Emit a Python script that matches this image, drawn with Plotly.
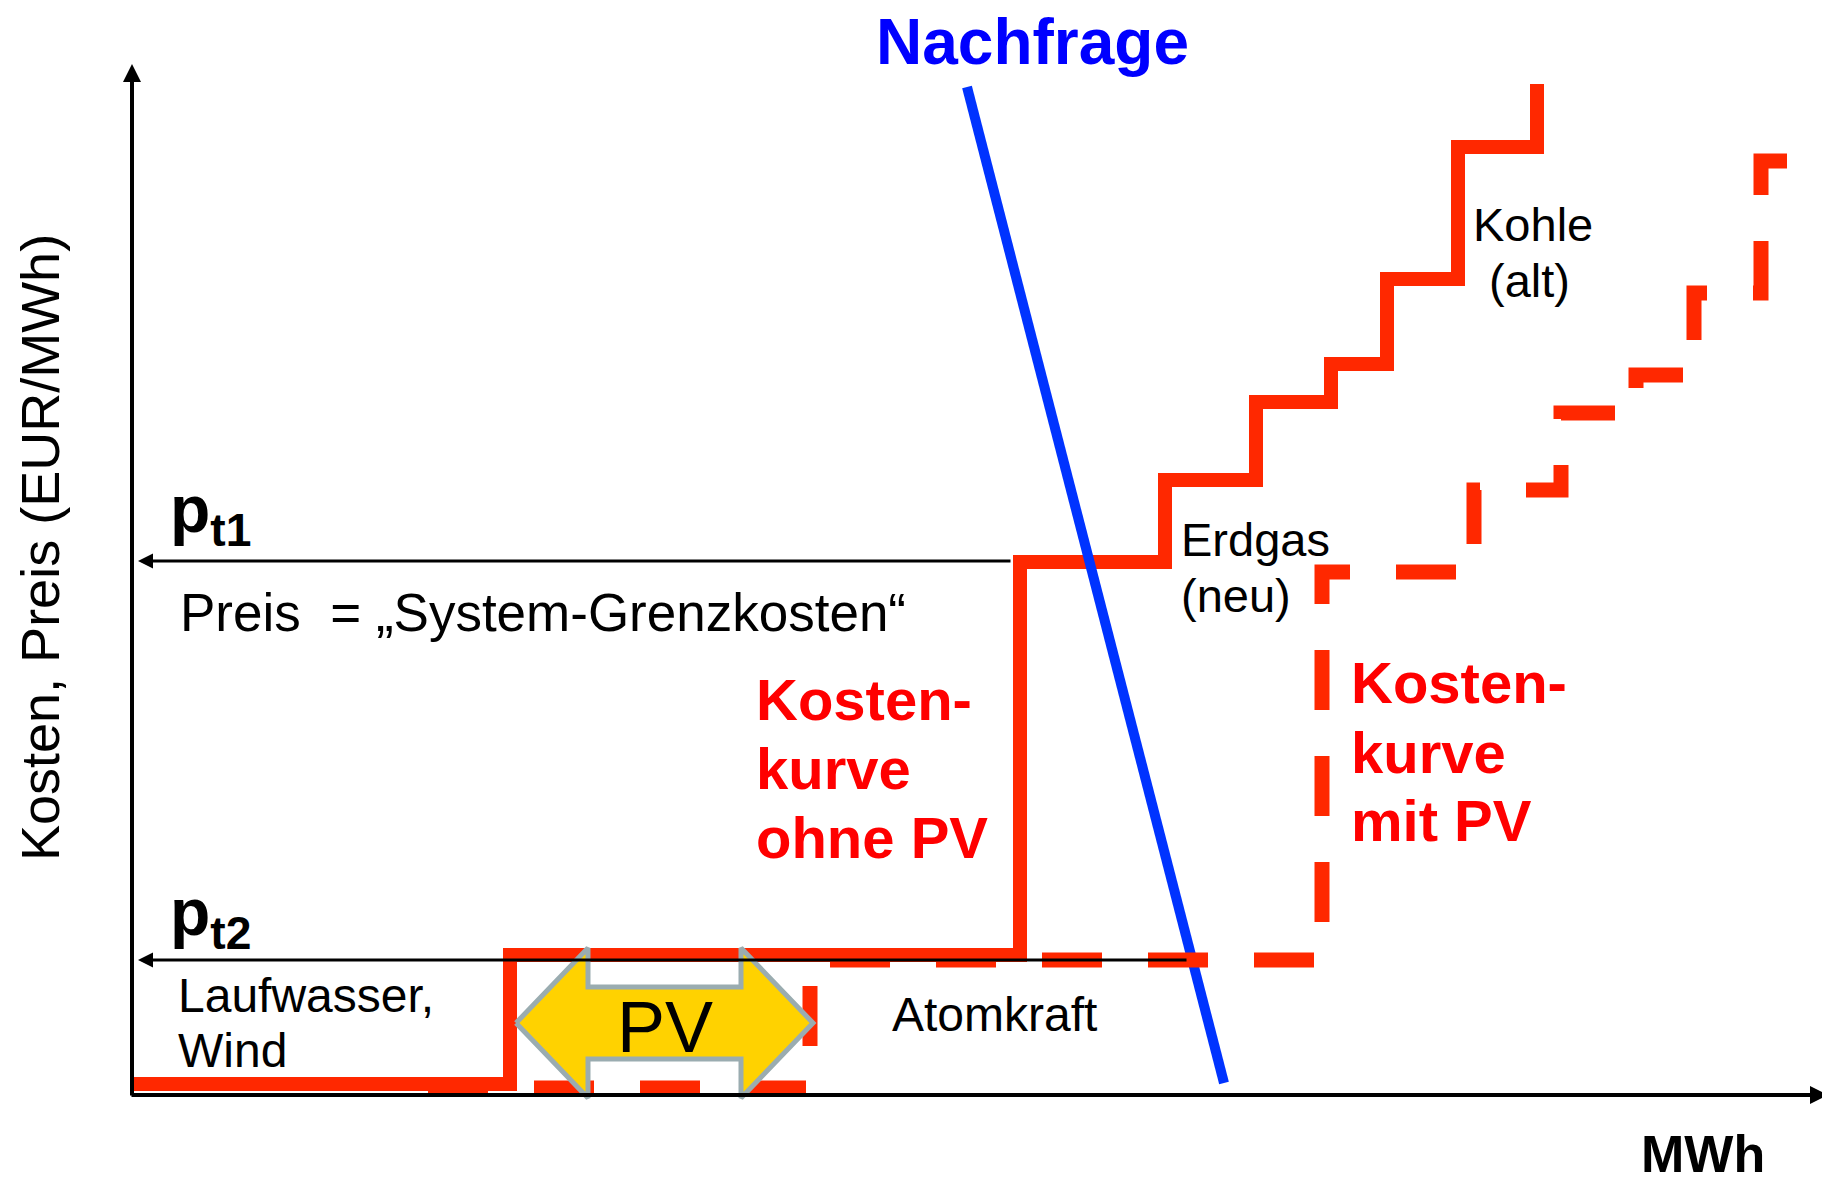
import plotly.graph_objects as go

# Einheiten: x = Menge (MWh, Diagrammeinheiten), y = Kosten/Preis (EUR/MWh, Diagrammeinheiten)

# Kostenkurve ohne PV (Merit-Order): Blockgrenzen und Grenzkosten je Block
ohne_grenzen = [0, 378, 888, 1033, 1124, 1199, 1255, 1326, 1405]
ohne_kosten = [11, 140, 533, 615, 693, 731, 816, 948]
ohne_ende = 1011

# Kostenkurve mit PV (nach rechts verschoben)
mit_grenzen = [296, 678, 1190, 1342, 1429, 1504, 1562, 1629, 1698]
mit_kosten = [7, 135, 523, 605, 682, 720, 802, 934]

# Nachfrage
nachfrage_menge = [835, 1092]
nachfrage_preis = [1008, 12]

# Preise
p_t1 = 534
p_t2 = 135

# PV-Einspeisung (Doppelpfeil)
pv_von = 384
pv_bis = 681
pv_mitte = 72

ROT = "#ff2800"
SCHRIFT = "Arial, Liberation Sans, sans-serif"


def treppe(grenzen, kosten):
    xs, ys = [], []
    for i, k in enumerate(kosten):
        xs += [grenzen[i], grenzen[i + 1]]
        ys += [k, k]
    return xs, ys


ox, oy = treppe(ohne_grenzen, ohne_kosten)
ox.append(ohne_grenzen[-1])
oy.append(ohne_ende)

mx, my = treppe(mit_grenzen, mit_kosten)

# Doppelpfeil fuer PV
kopf = 72
kopf_h = 75
schaft_h = 36
pv_x = [pv_von, pv_von + kopf, pv_von + kopf, pv_bis - kopf, pv_bis - kopf, pv_bis,
        pv_bis - kopf, pv_bis - kopf, pv_von + kopf, pv_von + kopf, pv_von]
pv_y = [pv_mitte, pv_mitte + kopf_h, pv_mitte + schaft_h, pv_mitte + schaft_h, pv_mitte + kopf_h, pv_mitte,
        pv_mitte - kopf_h, pv_mitte - schaft_h, pv_mitte - schaft_h, pv_mitte - kopf_h, pv_mitte]

fig = go.Figure()

fig.add_trace(go.Scatter(x=ox, y=oy, mode="lines",
                         line=dict(color=ROT, width=14), name="Kostenkurve ohne PV"))
fig.add_trace(go.Scatter(x=nachfrage_menge, y=nachfrage_preis, mode="lines",
                         line=dict(color="#0033ff", width=10), name="Nachfrage"))
fig.add_trace(go.Scatter(x=mx, y=my, mode="lines",
                         line=dict(color=ROT, width=15, dash="60px,46px"), name="Kostenkurve mit PV"))
fig.add_trace(go.Scatter(x=pv_x, y=pv_y, mode="lines", fill="toself", fillcolor="#ffd200",
                         line=dict(color="#9aacb0", width=5), name="PV"))

# Achsen und Preislinien als Pfeile
pfeile = [
    (1696, 0, -2, 0, 4, 0.9),
    (0, 1031, 0, -2, 4, 0.9),
    (6, p_t1, 880, p_t1, 3, 1.0),
    (6, p_t2, 1056, p_t2, 3, 1.0),
]
for x, y, ax, ay, w, s in pfeile:
    fig.add_annotation(x=x, y=y, ax=ax, ay=ay, xref="x", yref="y", axref="x", ayref="y",
                       text="", showarrow=True, arrowhead=2, arrowsize=s, arrowwidth=w,
                       arrowcolor="black", standoff=0)


def txt(text, x, y, size, color="black", bold=False, xanchor="left", angle=0):
    if bold:
        text = "<b>" + text + "</b>"
    fig.add_annotation(x=x, y=y, xref="x", yref="y", text=text, showarrow=False,
                       xanchor=xanchor, yanchor="middle", textangle=angle,
                       borderpad=0, borderwidth=0,
                       font=dict(family=SCHRIFT, size=size, color=color))


txt("Nachfrage", 900, 1053, 64, "#0000ff", True, "center")
txt("Kosten, Preis (EUR/MWh)", -92, 547, 54, xanchor="center", angle=-90)
txt("p<sub>t1</sub>", 38, 581, 66, bold=True)
txt("p<sub>t2</sub>", 38, 178, 66, bold=True)
txt("Preis\u00a0\u00a0= \u201eSystem-Grenzkosten\u201c", 48, 483, 53)
txt("Laufwasser,", 46, 100, 48)
txt("Wind", 46, 45, 48)
txt("PV", (pv_von + pv_bis) / 2, 68, 72, xanchor="center")
txt("Atomkraft", 760, 81, 48)
txt("Erdgas", 1049, 556, 47)
txt("(neu)", 1049, 500, 47)
txt("Kohle", 1401, 871, 47, xanchor="center")
txt("(alt)", 1397, 815, 47, xanchor="center")
for zeile, y in zip(["Kosten-", "kurve", "ohne PV"], [396, 327, 258]):
    txt(zeile, 624, y, 58, "#ff0000", True)
for zeile, y in zip(["Kosten-", "kurve", "mit PV"], [413, 343, 275]):
    txt(zeile, 1219, y, 58, "#ff0000", True)
txt("MWh", 1571, -59, 52, bold=True, xanchor="center")

fig.update_layout(
    width=1830, height=1178,
    margin=dict(l=0, r=0, t=0, b=0),
    paper_bgcolor="white", plot_bgcolor="white",
    showlegend=False, hovermode=False,
)
# Seite hat 8 px Rand; Bereiche so gewaehlt, dass die Achsenecke bei (132, 1095) liegt
fig.update_xaxes(visible=False, range=[-124, 1706])
fig.update_yaxes(visible=False, range=[-91, 1087])

fig.write_html("out.html")
